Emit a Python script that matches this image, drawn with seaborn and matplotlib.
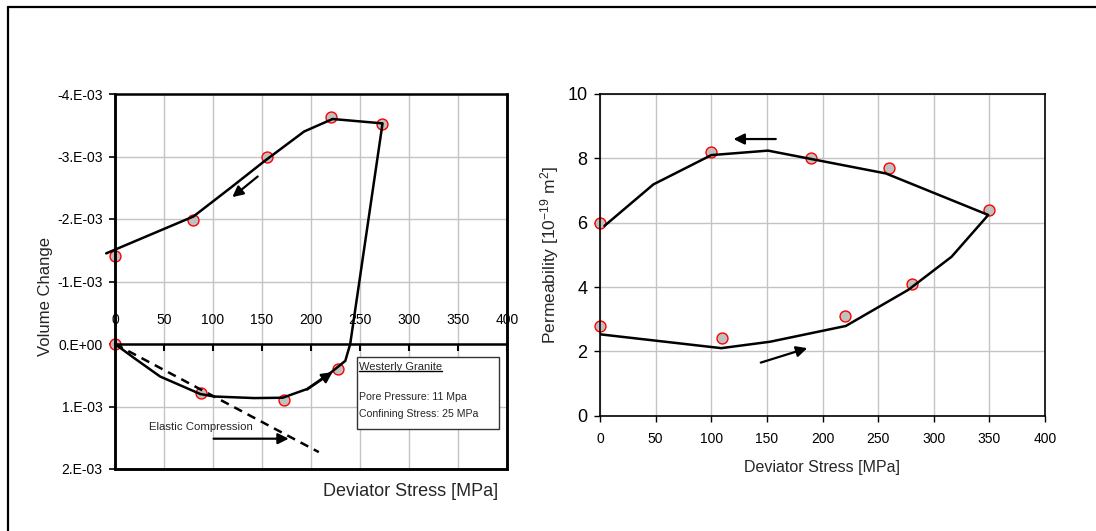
import matplotlib
matplotlib.use("Agg")
import matplotlib.pyplot as plt
from matplotlib.patches import Rectangle
from matplotlib.lines import Line2D
import seaborn as sns
import numpy as np

# ---------------- data ----------------
# Left panel: volume change vs deviator stress
vol_pts_x = [0, 80, 155, 220, 272, 0, 88, 172, 228]
vol_pts_y = [-1.41e-3, -1.99e-3, -3.0e-3, -3.63e-3, -3.52e-3, 0.0, 0.785e-3, 0.9e-3, 0.4e-3]
vol_curve_x = [0, 20, 46, 87, 101, 142, 171, 196, 220, 235, 240, 273, 222, 193, 152, 118, 80, -9]
vol_curve_y = [0.0, 0.23e-3, 0.52e-3, 0.80e-3, 0.84e-3, 0.865e-3, 0.86e-3, 0.72e-3, 0.46e-3,
               0.27e-3, 0.0, -3.53e-3, -3.6e-3, -3.4e-3, -2.92e-3, -2.5e-3, -2.04e-3, -1.45e-3]
elastic_x = [0, 208]
elastic_y = [0.0, 1.73e-3]
vol_yticks = [-4e-3, -3e-3, -2e-3, -1e-3, 0.0, 1e-3, 2e-3]
vol_yticklabels = ["-4.E-03", "-3.E-03", "-2.E-03", "-1.E-03", "0.E+00", "1.E-03", "2.E-03"]
stress_ticks = [0, 50, 100, 150, 200, 250, 300, 350, 400]

# Right panel: permeability vs deviator stress
perm_pts_x = [0, 100, 190, 260, 350, 0, 110, 220, 280]
perm_pts_y = [6.0, 8.2, 8.0, 7.7, 6.4, 2.8, 2.4, 3.1, 4.1]
perm_curve_x = [0, 109, 153, 221, 277, 316, 349, 257, 151, 100, 48, 4]
perm_curve_y = [2.53, 2.1, 2.3, 2.79, 3.91, 4.94, 6.24, 7.53, 8.24, 8.1, 7.19, 5.9]
perm_yticks = [0, 2, 4, 6, 8, 10]

# annotation arrows (tail -> head), data coordinates
vol_arrows = [((145.6, -2.68e-3), (119.7, -2.35e-3)),
              ((196, 0.73e-3), (222, 0.45e-3)),
              ((100.6, 1.515e-3), (177.3, 1.515e-3))]
perm_arrows = [((158, 8.6), (120, 8.6)),
               ((144.5, 1.65), (186.3, 2.1))]

# ---------------- style ----------------
sns.set_style("whitegrid")
plt.rcParams['font.family'] = ['Liberation Sans', 'DejaVu Sans']
plt.rcParams['mathtext.fontset'] = 'custom'
plt.rcParams['mathtext.rm'] = 'Liberation Sans'
plt.rcParams['mathtext.it'] = 'Liberation Sans:italic'
plt.rcParams['mathtext.bf'] = 'Liberation Sans:bold'
plt.rcParams['axes.unicode_minus'] = False
GRID = '#c4c4c4'
MFACE = '#c0c0c0'

fig = plt.figure(figsize=(10.96, 5.31), dpi=100)
fig.patch.set_facecolor('white')

# outer frame (left and top edges visible)
fx0, fy0 = 7.5 / 1096, 1 - 7 / 531
fig.add_artist(Line2D([fx0, fx0], [0, fy0], transform=fig.transFigure, color='black', lw=1.6))
fig.add_artist(Line2D([fx0, 1], [fy0, fy0], transform=fig.transFigure, color='black', lw=1.6))

# ================= left panel =================
ax1 = fig.add_axes([115 / 1096, 1 - 469 / 531, 392 / 1096, 375 / 531])
ax1.set_xlim(0, 400)
ax1.set_ylim(2e-3, -4e-3)
ax1.grid(True, color=GRID, lw=1)
ax1.set_axisbelow(True)

sns.scatterplot(x=vol_pts_x, y=vol_pts_y, ax=ax1, s=62, color=MFACE, edgecolor='red',
                linewidth=1, zorder=2, legend=False)
ax1.collections[-1].set_clip_on(False)
sns.lineplot(x=vol_curve_x, y=vol_curve_y, ax=ax1, sort=False, estimator=None,
             color='black', lw=1.8, zorder=3)
ax1.lines[-1].set_clip_on(False)
sns.lineplot(x=elastic_x, y=elastic_y, ax=ax1, sort=False, estimator=None,
             color='black', lw=1.8, zorder=3)
ax1.lines[-1].set_linestyle((0, (3.5, 2.5)))

ax1.set_xticks(stress_ticks)
ax1.set_yticks(vol_yticks)
ax1.set_yticklabels(vol_yticklabels)
ax1.xaxis.set_ticks_position('top')
ax1.spines['top'].set_position(('data', 0))
for s in ['top', 'left', 'right', 'bottom']:
    ax1.spines[s].set_color('black')
    ax1.spines[s].set_linewidth(1.8)
ax1.add_patch(Rectangle((0, 0), 1, 1, transform=ax1.transAxes, fill=False,
                        edgecolor='black', lw=1.8, clip_on=False, zorder=6))
ax1.tick_params(axis='x', direction='in', length=5, width=1.5, pad=12,
                labelsize=10, colors='black', top=True, bottom=False)
ax1.tick_params(axis='y', direction='out', length=4, width=1.2, pad=5,
                labelsize=10, colors='black', left=True)

ax1.set_ylabel("Volume Change", fontsize=12)
ax1.yaxis.set_label_coords(-0.158, 0.459)
ax1.set_xlabel("")
ax1.text(0.755, -0.061, "Deviator Stress [MPa]", transform=ax1.transAxes,
         ha='center', va='center', fontsize=13)

for (tail, head) in vol_arrows:
    ax1.annotate('', xy=head, xytext=tail,
                 arrowprops=dict(arrowstyle='-|>', color='black', lw=1.6,
                                 mutation_scale=16, shrinkA=0, shrinkB=0), zorder=4)

ax1.text(35, 1.33e-3, "Elastic Compression", ha='left', va='center', fontsize=8.2)

# info box
ax1.add_patch(Rectangle((0.6166, 0.1067), 0.3638, 0.1928, transform=ax1.transAxes,
                        facecolor='white', edgecolor='#333333', lw=1, zorder=5))
t_title = ax1.text(0.6224, 0.2712, "Westerly Granite", transform=ax1.transAxes,
                   ha='left', va='center', fontsize=8, zorder=7)
ax1.text(0.6224, 0.1912, "Pore Pressure: 11 Mpa", transform=ax1.transAxes,
         ha='left', va='center', fontsize=7.6, zorder=7)
ax1.text(0.6224, 0.1459, "Confining Stress: 25 MPa", transform=ax1.transAxes,
         ha='left', va='center', fontsize=7.6, zorder=7)

# ================= right panel =================
ax2 = fig.add_axes([600 / 1096, 1 - 415.7 / 531, 445 / 1096, 321.7 / 531])
ax2.set_xlim(0, 400)
ax2.set_ylim(0, 10)
ax2.grid(True, color=GRID, lw=1)
ax2.set_axisbelow(True)

sns.scatterplot(x=perm_pts_x, y=perm_pts_y, ax=ax2, s=62, color=MFACE, edgecolor='red',
                linewidth=1, zorder=2, legend=False)
ax2.collections[-1].set_clip_on(False)
sns.lineplot(x=perm_curve_x, y=perm_curve_y, ax=ax2, sort=False, estimator=None,
             color='black', lw=1.8, zorder=3)

ax2.set_xticks(stress_ticks)
ax2.set_yticks(perm_yticks)
for s in ['top', 'left', 'right', 'bottom']:
    ax2.spines[s].set_color('black')
    ax2.spines[s].set_linewidth(1.2)
ax2.tick_params(axis='x', direction='out', length=4, width=1, pad=8,
                labelsize=10, colors='black', bottom=True)
ax2.tick_params(axis='y', direction='out', length=4, width=1, pad=5,
                labelsize=13, colors='black', left=True)
ax2.set_xlabel("Deviator Stress [MPa]", fontsize=11.5, labelpad=10)
ax2.set_ylabel(r"Permeability [10$^{-19}$ m$^{2}$]", fontsize=12.5)
ax2.yaxis.set_label_coords(-0.0876, 0.5)

for (tail, head) in perm_arrows:
    ax2.annotate('', xy=head, xytext=tail,
                 arrowprops=dict(arrowstyle='-|>', color='black', lw=1.6,
                                 mutation_scale=16, shrinkA=0, shrinkB=0), zorder=4)

# underline for the info-box title
fig.canvas.draw()
bb = t_title.get_window_extent()
inv = ax1.transAxes.inverted()
(ux0, uy0), (ux1, uy1) = inv.transform([[bb.x0, bb.y0], [bb.x1, bb.y1]])
ax1.add_line(Line2D([ux0, ux1], [uy0 + 0.003, uy0 + 0.003], transform=ax1.transAxes,
                    color='black', lw=1, zorder=7))

fig.savefig("out.png", dpi=100)
